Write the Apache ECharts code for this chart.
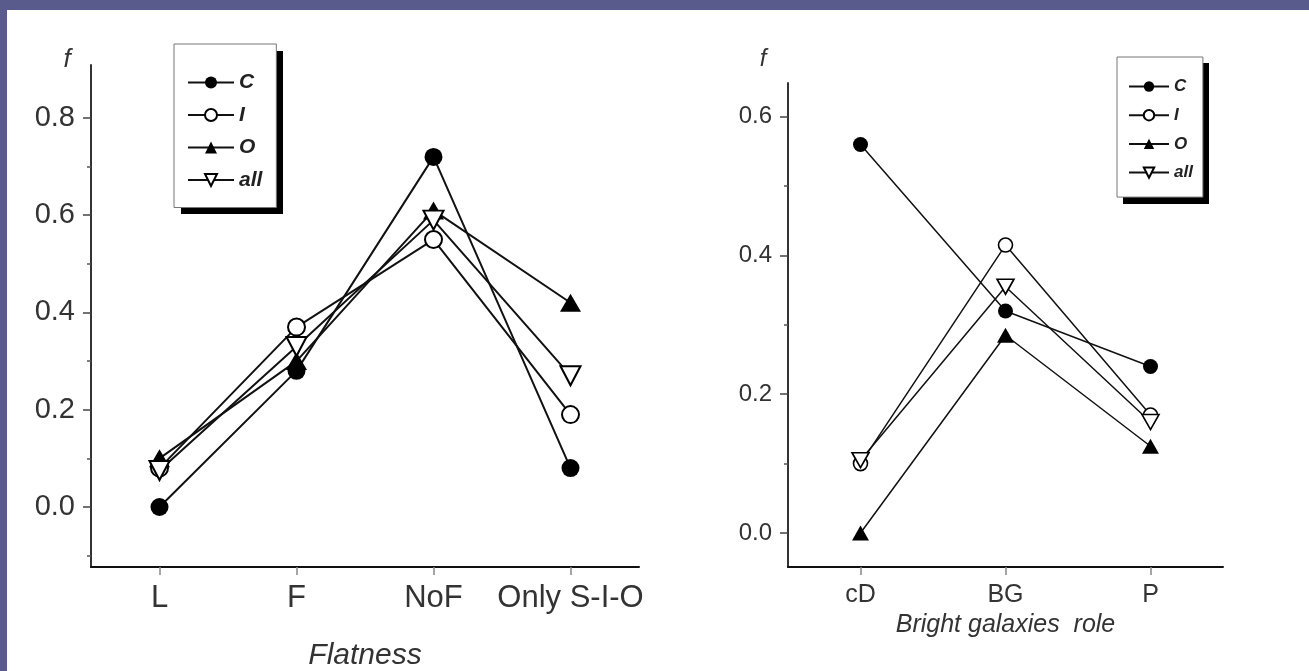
<!DOCTYPE html>
<html>
<head>
<meta charset="utf-8">
<script src="https://cdn.jsdelivr.net/npm/echarts@6/dist/echarts.min.js"></script>
<style>
  html, body { margin: 0; padding: 0; width: 1309px; height: 671px; overflow: hidden; background: #5a5b8d; }
  #panel { position: absolute; left: 7px; top: 10px; right: 0; bottom: 0; background: #ffffff; }
  #chart { position: absolute; left: 0; top: 0; width: 1309px; height: 671px; }
</style>
</head>
<body>
<div id="panel"></div>
<div id="chart"></div>
<script>
// Fraction f of groups by galaxy-plane flatness
const flatCategories = ['L', 'F', 'NoF', 'Only S-I-O'];
const flatC   = [0.00, 0.28, 0.72, 0.08];
const flatI   = [0.08, 0.37, 0.55, 0.19];
const flatO   = [0.10, 0.30, 0.61, 0.42];
const flatAll = [0.075, 0.33, 0.59, 0.27];
const flatTicks = [0, 0.2, 0.4, 0.6, 0.8];
const flatMinorTicks = [-0.1, 0.1, 0.3, 0.5, 0.7];

// Fraction f of groups by role of the bright galaxies
const roleCategories = ['cD', 'BG', 'P'];
const roleC   = [0.56, 0.32, 0.24];
const roleI   = [0.10, 0.415, 0.17];
const roleO   = [0.00, 0.285, 0.125];
const roleAll = [0.105, 0.355, 0.16];
const roleTicks = [0, 0.2, 0.4, 0.6];
const roleMinorTicks = [0.1, 0.3, 0.5];

const seriesNames = ['C', 'I', 'O', 'all'];

const FONT = '"Liberation Sans", Arial, Helvetica, sans-serif';
const INK = '#222';

// marker look per group: filled circle, open circle, filled triangle, open down-triangle
function markerStyle(name, big) {
  const lw = big ? 2 : 1.6;
  switch (name) {
    case 'C':   return { symbol: 'circle', symbolSize: big ? 18 : 15, symbolRotate: 0,
                         itemStyle: { color: '#000', borderColor: '#000', borderWidth: 0 } };
    case 'I':   return { symbol: 'circle', symbolSize: big ? 17 : 14, symbolRotate: 0,
                         itemStyle: { color: '#fff', borderColor: '#000', borderWidth: lw } };
    case 'O':   return { symbol: 'triangle', symbolSize: big ? [21, 18] : [17, 15], symbolRotate: 0,
                         itemStyle: { color: '#000', borderColor: '#000', borderWidth: 0 } };
    default:    return { symbol: 'triangle', symbolSize: big ? [20, 19] : [17, 15], symbolRotate: 180,
                         itemStyle: { color: '#fff', borderColor: '#000', borderWidth: lw } };
  }
}

function lineSeries(name, values, axisIndex, big) {
  const m = markerStyle(name, big);
  return {
    type: 'line',
    name: name,
    xAxisIndex: axisIndex,
    yAxisIndex: axisIndex * 2,
    data: values,
    symbol: m.symbol,
    symbolSize: m.symbolSize,
    symbolRotate: m.symbolRotate,
    showAllSymbol: true,
    itemStyle: m.itemStyle,
    lineStyle: { color: '#111', width: big ? 2 : 1.5 },
    emphasis: { disabled: true },
    animation: false,
    z: 3
  };
}

function valueAxis(gridIndex, min, max, ticks, labelSize) {
  return {
    type: 'value', gridIndex: gridIndex, min: min, max: max,
    splitLine: { show: false },
    axisLine: { show: true, onZero: false, lineStyle: { color: '#333', width: 2 } },
    axisTick: { show: true, length: 8, customValues: ticks, lineStyle: { color: '#444', width: 1.5 } },
    axisLabel: {
      customValues: ticks, margin: 16, fontSize: labelSize, fontFamily: FONT, color: '#333',
      formatter: v => v.toFixed(1)
    }
  };
}

function minorAxis(gridIndex, min, max, ticks) {
  return {
    type: 'value', gridIndex: gridIndex, min: min, max: max, position: 'left',
    splitLine: { show: false },
    axisLine: { show: false, onZero: false },
    axisTick: { show: true, length: 4, customValues: ticks, lineStyle: { color: '#555', width: 1.5 } },
    axisLabel: { show: false }
  };
}

function categoryAxis(gridIndex, cats, labelSize, name, nameSize, nameGap) {
  return {
    type: 'category', gridIndex: gridIndex, data: cats, boundaryGap: true,
    axisLine: { show: true, onZero: false, lineStyle: { color: '#111', width: 2 } },
    axisTick: { show: true, alignWithLabel: true, interval: 0, length: 8, lineStyle: { color: '#888', width: 1.5 } },
    axisLabel: { interval: 0, hideOverlap: false, margin: 16, fontSize: labelSize, fontFamily: FONT, color: '#333' },
    splitLine: { show: false },
    name: name, nameLocation: 'middle', nameGap: nameGap,
    nameTextStyle: { fontSize: nameSize, fontStyle: 'italic', fontFamily: FONT, color: '#333' }
  };
}

function legendBox(left, top, padding, itemWidth, itemHeight, itemGap, fontSize) {
  return {
    orient: 'vertical', left: left, top: top, padding: padding,
    itemWidth: itemWidth, itemHeight: itemHeight, itemGap: itemGap,
    data: seriesNames, selectedMode: false, z: 6,
    backgroundColor: '#fff', borderColor: '#777', borderWidth: 1,
    textStyle: { fontSize: fontSize, lineHeight: fontSize, fontStyle: 'italic', fontWeight: 'bold',
                 fontFamily: FONT, color: INK }
  };
}

// solid drop shadow behind a legend frame
function frameShadow(x, y, w, h, off) {
  return { type: 'rect', z: 1, silent: true,
           shape: { x: x + off, y: y + off, width: w, height: h },
           style: { fill: '#000' } };
}

const chart = echarts.init(document.getElementById('chart'), null, { renderer: 'canvas' });

const option = {
  backgroundColor: 'transparent',
  animation: false,
  grid: [
    { left: 91, top: 65, width: 548, height: 502, containLabel: false, outerBoundsMode: 'none' },
    { left: 788, top: 83, width: 435, height: 484, containLabel: false, outerBoundsMode: 'none' }
  ],
  xAxis: [
    categoryAxis(0, flatCategories, 31, 'Flatness', 30, 74),
    categoryAxis(1, roleCategories, 25, 'Bright galaxies  role', 25, 42)
  ],
  yAxis: [
    Object.assign(valueAxis(0, -0.1234, 0.909, flatTicks, 29), {
      name: 'f', nameLocation: 'end', nameGap: -8,
      nameTextStyle: { fontSize: 26, fontStyle: 'italic', fontFamily: FONT, color: '#333', padding: [0, 48, 0, 0] }
    }),
    minorAxis(0, -0.1234, 0.909, flatMinorTicks),
    Object.assign(valueAxis(1, -0.049, 0.6486, roleTicks, 24), {
      name: 'f', nameLocation: 'end', nameGap: 12,
      nameTextStyle: { fontSize: 24, fontStyle: 'italic', fontFamily: FONT, color: '#333', padding: [0, 50, 0, 0] }
    }),
    minorAxis(1, -0.049, 0.6486, roleMinorTicks)
  ],
  legend: [
    legendBox(174, 44, [28, 14, 17, 13], 46, 15, 11.5, 21),
    legendBox(1117, 57, [21, 10, 16, 11], 40, 13, 11.7, 17)
  ],
  graphic: [
    frameShadow(174, 44, 102, 163, 7),
    frameShadow(1117, 57, 86, 141, 6)
  ],
  series: [
    lineSeries('C', flatC, 0, true),
    lineSeries('I', flatI, 0, true),
    lineSeries('O', flatO, 0, true),
    lineSeries('all', flatAll, 0, true),
    lineSeries('C', roleC, 1, false),
    lineSeries('I', roleI, 1, false),
    lineSeries('O', roleO, 1, false),
    lineSeries('all', roleAll, 1, false)
  ]
};

chart.setOption(option);
</script>
</body>
</html>
